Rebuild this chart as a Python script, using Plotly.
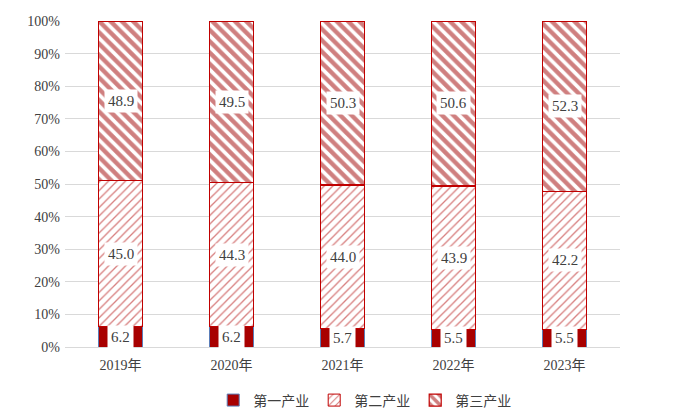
import plotly.graph_objects as go

# --- Data ---
years = ["2019年", "2020年", "2021年", "2022年", "2023年"]
primary = [6.2, 6.2, 5.7, 5.5, 5.5]
secondary = [45.0, 44.3, 44.0, 43.9, 42.2]
tertiary = [48.9, 49.5, 50.3, 50.6, 52.3]
series_names = ["第一产业", "第二产业", "第三产业"]

FONT = "Liberation Serif, Times New Roman, Noto Sans CJK SC"
TXT = "#404040"
RED = "#C00000"

fig = go.Figure()

fig.add_trace(go.Bar(
    x=years, y=primary, name=series_names[0],
    marker=dict(color="#A80000", line=dict(color="#5B7DB8", width=1)),
))
fig.add_trace(go.Bar(
    x=years, y=secondary, name=series_names[1],
    marker=dict(
        color="white",
        line=dict(color=RED, width=1),
        pattern=dict(shape="/", fgcolor="#B00000", bgcolor="white", size=6, solidity=0.22),
    ),
))
fig.add_trace(go.Bar(
    x=years, y=tertiary, name=series_names[2],
    marker=dict(
        color="white",
        line=dict(color=RED, width=1.2),
        pattern=dict(shape="\\", fgcolor="#A00000", bgcolor="white", size=8, solidity=0.55),
    ),
))

# value labels in white boxes at segment centres (normalised to 100%)
annotations = []
for i, yr in enumerate(years):
    vals = [primary[i], secondary[i], tertiary[i]]
    total = sum(vals)
    base = 0
    for v in vals:
        h = v / total * 100
        annotations.append(dict(
            x=yr, y=base + h / 2, text=f"{v:.1f}", showarrow=False,
            bgcolor="white", borderpad=3,
            font=dict(family=FONT, size=15, color=TXT),
        ))
        base += h

fig.update_layout(
    width=694, height=420,
    barmode="stack", barnorm="percent", bargap=0.6,
    plot_bgcolor="white", paper_bgcolor="white",
    margin=dict(l=57, r=82, t=13, b=81, autoexpand=False),
    font=dict(family=FONT, size=14, color=TXT),
    xaxis=dict(
        showline=True, linecolor="#d9d9d9", ticks="",
        ticklabelstandoff=5,
        tickfont=dict(family=FONT, size=14, color=TXT),
    ),
    yaxis=dict(
        range=[0, 100], dtick=10, ticksuffix="%",
        showgrid=True, gridcolor="#d9d9d9", zeroline=False,
        ticklabelstandoff=4,
        tickfont=dict(family=FONT, size=14, color=TXT),
    ),
    legend=dict(
        orientation="h", x=0.54, xanchor="center", y=-0.115, yanchor="top",
        traceorder="normal",
        font=dict(family=FONT, size=14, color=TXT),
        itemwidth=30, tracegroupgap=0,
    ),
    annotations=annotations,
)

fig.write_html("out.html")
